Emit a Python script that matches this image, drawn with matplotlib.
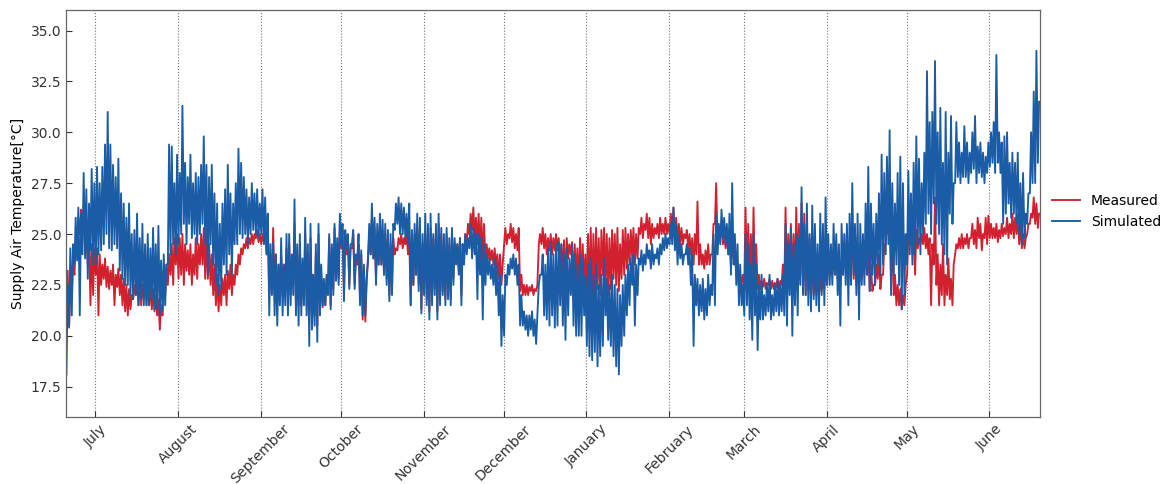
import matplotlib
matplotlib.use("Agg")
import matplotlib.pyplot as plt
import matplotlib.dates as mdates
import numpy as np
import pandas as pd

start_date = "2018-06-20"

# Daily high / low readings (one value per day, from 2018-06-20)
sim_hi = [
    22.5, 24.3, 24.5, 25.8, 26.3, 26.0, 28.0, 27.2, 26.5, 28.2, 27.5,   # Jun 20-30
    28.3, 27.5, 28.3, 29.4, 31.0, 29.4, 28.4, 27.8, 28.7, 27.0,         # Jul 1-10
    26.5, 25.8, 26.5, 25.0, 25.2, 26.0, 24.8, 25.5, 24.5, 25.0,         # Jul 11-20
    24.3, 25.3, 24.5, 25.4, 23.7, 24.0, 23.5, 29.4, 29.3, 27.5, 28.9,   # Jul 21-31
    28.0, 31.3, 28.5, 27.8, 28.9, 27.5, 28.0, 27.8, 28.4, 29.8, 28.4,   # Aug 1-11
    27.8, 28.4, 27.0, 26.5, 25.5, 26.5, 27.2, 28.4, 27.0, 26.5,         # Aug 12-21
    27.5, 29.2, 28.5, 27.8, 27.2, 26.8, 27.5, 27.0, 27.2, 26.5,         # Aug 22-31
    27.2, 26.8, 26.0, 24.5, 24.6, 24.0, 23.5, 24.8, 23.5, 25.0,         # Sep 1-10
    25.0, 24.0, 26.7, 24.5, 25.0, 23.8, 25.8, 24.5, 25.5, 23.0,         # Sep 11-20
    24.5, 25.5, 23.5, 22.8, 23.0, 25.0, 24.5, 25.5, 24.8, 26.0,         # Sep 21-30
    25.5, 25.2, 25.0, 24.5, 25.2, 24.0, 25.0, 24.2, 23.5, 22.8,         # Oct 1-10
    25.5, 26.5, 25.8, 25.5, 26.0, 25.7, 25.5, 25.2, 25.0, 25.5,         # Oct 11-20
    26.5, 26.8, 26.5, 26.3, 26.0, 26.5, 25.2, 25.5, 26.0, 25.8, 25.0,   # Oct 21-31
    26.0, 25.5, 26.0, 25.0, 25.5, 26.0, 25.3, 25.0, 25.3, 24.8,         # Nov 1-10
    25.3, 24.8, 24.5, 24.8, 24.5, 25.0, 24.8, 25.5, 25.3, 25.0,         # Nov 11-20
    25.0, 24.8, 24.5, 24.0, 23.8, 23.5, 23.8, 23.5, 23.0, 22.0,         # Nov 21-30
    23.0, 23.5, 23.8, 24.0, 23.8, 23.5, 22.0, 21.2, 21.0, 21.0,         # Dec 1-10
    21.2, 20.8, 21.0, 23.0, 24.0, 23.5, 24.3, 24.6, 24.0, 24.5,         # Dec 11-20
    24.6, 24.5, 24.0, 24.3, 23.8, 24.5, 24.0, 23.5, 24.0, 23.8, 23.0,   # Dec 21-31
    23.5, 23.8, 23.0, 23.5, 22.5, 23.0, 23.8, 22.8, 22.5, 23.0,         # Jan 1-10
    22.5, 22.3, 22.0, 22.5, 23.0, 23.5, 23.8, 24.0, 23.5, 23.8,         # Jan 11-20
    24.2, 24.0, 24.5, 24.2, 24.5, 24.0, 24.3, 24.5, 24.8, 25.0, 24.8,   # Jan 21-31
    25.5, 26.3, 25.5, 25.0, 24.5, 24.0, 24.5, 24.3, 24.0, 23.0, 22.8,   # Feb 1-11
    22.5, 22.8, 22.3, 23.0, 22.5, 25.0, 26.0, 25.5, 26.2, 25.8,         # Feb 12-21
    25.5, 26.0, 27.5, 25.0, 24.5, 23.5, 22.5, 25.0, 24.5, 23.5,         # Feb 22-Mar 3
    25.0, 23.5, 22.5, 23.0, 22.0, 22.5, 23.0, 22.0, 22.5, 22.8,         # Mar 4-13
    22.5, 23.0, 25.5, 24.5, 25.3, 24.5, 25.0, 24.8, 27.3, 25.5,         # Mar 14-23
    26.5, 25.0, 26.4, 25.5, 24.5, 26.0, 25.5, 26.8, 25.0, 24.5,         # Mar 24-Apr 2
    25.5, 25.0, 24.5, 25.5, 25.0, 25.5, 26.0, 27.5, 25.5, 26.0,         # Apr 3-12
    25.5, 25.0, 26.5, 28.3, 26.5, 25.5, 26.0, 27.0, 28.9, 28.0,         # Apr 13-22
    28.8, 30.1, 27.5, 26.5, 28.0, 28.8, 27.5, 25.0, 28.1, 27.0,         # Apr 23-May 2
    28.5, 29.8, 28.7, 27.5, 29.0, 33.0, 30.5, 31.0, 33.5, 30.0,         # May 3-12
    31.2, 28.5, 31.0, 29.0, 30.8, 27.5, 30.5, 29.5, 29.0, 30.3,         # May 13-22
    29.5, 29.0, 30.0, 30.8, 29.3, 29.5, 29.0, 28.8, 29.5, 30.0,         # May 23-Jun 1
    30.5, 33.8, 30.0, 29.5, 29.8, 30.0, 28.5, 29.0, 28.5, 29.0,         # Jun 2-11
    27.5, 28.0, 26.0, 27.0, 30.0, 32.0, 34.0, 31.5,                     # Jun 12-19
]
sim_lo = [
    18.1, 20.4, 21.0, 23.5, 23.7, 21.0, 24.0, 23.8, 22.8, 24.2, 23.5,
    23.5, 24.0, 24.2, 24.5, 25.0, 24.3, 24.2, 24.5, 24.3, 23.2,
    22.8, 22.5, 22.5, 22.0, 21.8, 22.0, 21.5, 21.8, 21.5, 21.5,
    21.5, 21.8, 21.3, 21.3, 21.0, 21.2, 21.5, 23.5, 24.0, 24.5, 24.0,
    24.5, 25.0, 25.5, 24.5, 25.5, 24.8, 25.0, 24.5, 25.0, 25.5, 24.5,
    23.0, 24.5, 23.5, 22.5, 22.0, 22.3, 23.5, 23.0, 24.0, 23.0,
    24.5, 24.5, 25.0, 24.8, 25.0, 24.5, 25.0, 25.2, 25.0, 24.8,
    25.0, 24.5, 24.0, 21.0, 22.0, 21.0, 20.5, 21.5, 21.0, 21.5,
    21.0, 21.5, 22.0, 21.0, 20.5, 21.0, 21.5, 21.0, 19.5, 20.3,
    20.5, 19.7, 21.0, 21.5, 21.5, 22.0, 21.3, 22.0, 22.7, 22.5,
    24.5, 21.7, 24.3, 22.3, 24.5, 22.3, 23.8, 21.5, 21.0, 21.0,
    23.7, 24.0, 23.8, 22.5, 23.5, 23.5, 23.0, 22.5, 21.7, 22.0,
    25.2, 25.5, 25.0, 25.0, 24.8, 24.5, 21.5, 22.5, 23.0, 22.2, 21.1,
    22.0, 21.5, 20.8, 21.5, 22.0, 20.8, 21.5, 22.0, 21.5, 21.8,
    21.5, 22.5, 23.5, 23.0, 21.5, 23.5, 24.0, 24.3, 23.8, 24.0,
    21.8, 23.0, 20.8, 22.5, 23.0, 22.8, 22.5, 22.0, 21.0, 19.5,
    20.0, 22.5, 23.0, 23.3, 23.0, 22.5, 20.5, 20.5, 20.3, 20.0,
    20.3, 20.0, 19.6, 22.5, 23.0, 21.0, 20.8, 20.5, 21.0, 20.4,
    20.5, 21.5, 20.5, 19.8, 21.0, 22.0, 20.5, 20.0, 20.0, 20.0, 21.0,
    19.5, 19.0, 18.8, 19.2, 18.5, 19.0, 19.5, 21.0, 19.8, 19.5,
    19.0, 18.5, 18.1, 19.5, 20.0, 21.0, 21.5, 22.5, 20.5, 22.0,
    23.5, 23.2, 23.5, 23.8, 23.3, 23.5, 23.8, 23.5, 24.0, 24.2, 24.3,
    24.5, 24.5, 24.2, 23.5, 23.8, 23.5, 24.0, 23.5, 22.5, 19.5, 21.5,
    21.0, 21.2, 20.8, 21.0, 21.5, 22.0, 21.5, 24.0, 24.5, 24.8,
    24.5, 24.0, 23.0, 23.5, 22.5, 21.5, 21.5, 21.0, 21.5, 20.8,
    19.8, 21.0, 19.3, 20.8, 20.8, 21.0, 21.2, 20.8, 21.0, 21.2,
    21.0, 21.2, 21.0, 20.5, 22.0, 20.0, 21.5, 21.0, 22.5, 22.0,
    22.0, 21.5, 21.2, 21.8, 21.5, 21.2, 22.0, 21.5, 22.5, 22.5,
    22.5, 23.0, 22.0, 20.5, 23.0, 22.5, 21.5, 22.5, 23.0, 22.0,
    20.8, 22.5, 22.5, 23.0, 22.2, 23.0, 22.5, 23.5, 23.0, 23.5,
    24.0, 24.5, 22.0, 23.0, 23.5, 22.5, 21.3, 22.0, 23.5, 24.0,
    23.5, 24.0, 24.5, 24.0, 25.0, 25.5, 26.0, 25.0, 26.5, 25.5,
    25.0, 24.5, 24.0, 23.5, 26.0, 25.5, 27.5, 27.8, 27.5, 27.8,
    27.8, 27.5, 28.0, 28.2, 27.5, 28.0, 27.8, 27.5, 28.0, 28.3,
    28.5, 28.0, 28.5, 28.0, 25.5, 26.0, 26.5, 25.8, 26.0, 25.5,
    25.0, 24.5, 24.8, 25.5, 27.0, 27.5, 27.5, 28.5,
]
meas_hi = [
    23.2, 22.5, 23.5, 24.5, 25.8, 26.2, 26.4, 25.5, 25.0, 24.5, 24.3,
    24.3, 24.0, 23.5, 23.8, 23.4, 23.2, 23.5, 23.0, 23.3, 23.0,
    22.8, 22.5, 22.3, 22.0, 22.5, 22.8, 23.0, 22.5, 22.8, 22.6,
    22.5, 22.3, 22.0, 21.8, 21.5, 22.5, 23.5, 24.0, 24.5, 24.8, 25.0,
    24.8, 25.0, 24.5, 24.2, 24.5, 24.0, 24.8, 24.5, 25.0, 25.3, 25.0,
    24.5, 24.0, 23.5, 23.0, 22.5, 22.8, 23.0, 23.2, 23.5, 23.0,
    23.5, 24.0, 24.3, 24.5, 24.8, 24.8, 25.0, 25.0, 25.2, 25.0,
    25.0, 25.2, 25.3, 24.0, 25.3, 24.0, 23.5, 24.0, 23.5, 24.3,
    24.5, 23.8, 25.5, 24.0, 24.5, 23.5, 25.0, 24.0, 24.8, 23.0,
    24.0, 25.0, 23.0, 22.5, 22.8, 24.8, 24.3, 25.3, 24.5, 25.5,
    25.2, 25.0, 24.8, 24.3, 25.0, 23.8, 24.5, 24.0, 23.0, 22.5,
    25.0, 25.8, 25.3, 25.0, 25.5, 25.2, 25.0, 24.8, 24.5, 24.8,
    24.3, 24.8, 25.0, 24.8, 25.0, 24.8, 24.5, 25.0, 25.3, 25.0, 24.5,
    25.0, 25.0, 25.3, 24.8, 25.0, 25.5, 25.0, 24.5, 25.0, 24.5,
    25.0, 24.5, 24.5, 24.8, 24.5, 25.0, 25.5, 26.0, 26.3, 25.8,
    26.0, 25.8, 25.5, 24.5, 24.3, 24.2, 24.3, 24.0, 24.0, 23.5,
    25.3, 25.0, 25.5, 25.3, 25.0, 25.3, 23.0, 22.5, 22.5, 22.4,
    22.5, 22.3, 22.5, 25.0, 25.3, 25.0, 24.8, 25.0, 24.8, 25.0,
    24.8, 24.5, 24.7, 24.8, 24.5, 24.6, 24.5, 24.3, 24.8, 24.5, 24.0,
    25.0, 25.3, 25.0, 25.3, 24.8, 25.2, 25.3, 25.0, 24.8, 25.2,
    25.0, 25.3, 24.5, 25.2, 25.3, 25.0, 25.2, 25.3, 25.0, 25.3,
    25.8, 25.5, 26.0, 25.8, 25.5, 25.3, 25.5, 25.8, 25.5, 25.8, 25.5,
    26.0, 26.3, 25.8, 25.5, 25.3, 25.0, 25.2, 25.0, 24.8, 25.0, 26.6,
    24.5, 24.0, 24.2, 24.5, 24.0, 25.5, 27.5, 25.3, 25.5, 25.0,
    25.0, 24.8, 24.5, 24.3, 23.5, 23.0, 23.0, 26.3, 25.5, 25.0,
    26.3, 24.5, 23.0, 22.7, 22.8, 22.6, 22.8, 22.7, 22.6, 22.8,
    22.7, 23.5, 26.3, 25.0, 25.5, 25.0, 26.3, 25.5, 26.5, 26.0,
    25.5, 24.8, 24.0, 23.0, 23.0, 22.8, 23.0, 23.5, 23.5, 24.0,
    24.0, 24.5, 24.0, 23.5, 24.5, 25.0, 24.5, 25.0, 24.5, 24.0,
    23.5, 24.0, 24.5, 24.5, 23.5, 22.5, 23.5, 24.0, 23.0, 24.5,
    25.5, 26.0, 25.8, 23.0, 22.5, 22.3, 22.0, 22.5, 25.0, 25.2,
    25.0, 25.2, 24.8, 25.0, 25.3, 25.0, 24.8, 24.5, 26.8, 24.0,
    23.5, 24.5, 23.0, 23.8, 22.8, 23.5, 24.5, 24.8, 25.0, 24.8,
    25.0, 24.8, 25.5, 25.2, 25.8, 25.5, 25.0, 25.8, 25.9, 25.5,
    25.3, 25.5, 25.2, 25.5, 25.3, 25.8, 25.5, 26.0, 25.8, 26.0,
    25.5, 25.0, 24.8, 25.5, 26.0, 26.8, 26.5, 26.0,
]
meas_lo = [
    21.5, 20.5, 21.8, 23.0, 24.5, 25.0, 25.2, 24.0, 23.5, 21.5, 22.0,
    23.0, 21.0, 22.5, 22.8, 22.4, 22.3, 22.5, 21.5, 22.4, 22.0,
    21.5, 21.2, 21.0, 21.3, 21.8, 22.0, 21.5, 21.5, 21.8, 21.5,
    21.5, 21.3, 21.2, 21.0, 20.3, 21.0, 22.0, 22.5, 23.0, 22.5, 23.5,
    22.8, 23.0, 22.5, 23.2, 23.0, 22.5, 23.0, 22.8, 23.5, 23.5, 22.8,
    22.8, 22.5, 22.0, 21.5, 21.2, 21.5, 22.0, 21.5, 22.3, 22.0,
    22.5, 23.0, 23.5, 24.0, 24.3, 24.3, 24.5, 24.5, 24.8, 24.6,
    24.5, 24.6, 24.0, 22.0, 22.5, 22.0, 21.5, 22.0, 22.0, 22.3,
    22.0, 22.0, 22.5, 21.5, 21.5, 21.5, 22.0, 21.5, 21.0, 21.0,
    21.0, 20.5, 21.5, 21.4, 21.5, 22.3, 21.5, 22.3, 22.8, 22.8,
    24.3, 22.0, 24.0, 22.5, 24.3, 22.5, 23.5, 21.8, 20.8, 20.7,
    23.8, 24.0, 23.8, 22.8, 23.5, 23.5, 23.0, 22.8, 22.0, 22.3,
    24.0, 24.2, 24.5, 24.3, 24.5, 24.0, 21.5, 22.5, 23.0, 22.5, 21.3,
    22.3, 21.8, 21.2, 21.8, 22.3, 21.2, 21.8, 22.2, 21.8, 22.0,
    21.8, 22.8, 23.8, 23.3, 22.0, 24.0, 24.5, 25.0, 25.2, 24.8,
    24.5, 24.0, 23.5, 23.8, 23.8, 23.7, 23.5, 23.3, 22.8, 22.5,
    24.5, 24.5, 24.8, 24.6, 24.3, 24.2, 22.2, 22.0, 22.0, 22.0,
    22.2, 22.0, 22.2, 24.5, 24.5, 24.3, 24.0, 24.2, 24.0, 24.2,
    24.2, 23.5, 23.0, 22.5, 23.8, 24.0, 22.5, 22.8, 22.5, 22.5, 22.3,
    22.3, 22.0, 21.8, 22.0, 22.3, 22.0, 23.0, 22.5, 22.0, 22.3,
    22.8, 22.5, 22.2, 22.8, 23.0, 23.3, 23.5, 23.8, 23.5, 23.8,
    25.0, 24.8, 25.2, 24.8, 24.5, 24.8, 25.0, 24.8, 25.0, 25.0, 25.0,
    25.0, 25.2, 24.8, 24.5, 24.5, 24.5, 24.8, 24.3, 24.0, 23.5, 24.0,
    23.5, 23.5, 23.3, 23.5, 23.5, 24.0, 25.5, 24.5, 24.8, 24.5,
    24.3, 24.0, 23.5, 23.8, 23.0, 22.5, 22.5, 22.5, 23.0, 22.5,
    22.5, 22.8, 22.3, 22.3, 22.4, 22.3, 22.5, 22.3, 22.3, 22.4,
    22.3, 22.5, 22.5, 22.5, 23.0, 22.5, 22.5, 22.8, 23.0, 22.5,
    22.0, 22.2, 22.0, 22.0, 22.0, 22.0, 22.2, 22.3, 22.5, 23.0,
    23.0, 23.0, 22.8, 22.5, 23.0, 23.5, 22.5, 23.5, 22.8, 22.5,
    22.5, 22.8, 23.0, 23.0, 22.2, 22.2, 22.5, 22.8, 22.3, 23.0,
    24.5, 25.0, 22.3, 22.0, 21.5, 21.5, 21.3, 21.5, 23.0, 24.5,
    24.0, 23.0, 24.3, 24.5, 24.5, 24.3, 24.0, 21.5, 23.5, 22.5,
    21.5, 22.0, 21.5, 22.0, 21.8, 21.5, 24.0, 24.3, 24.3, 24.3,
    24.5, 24.3, 24.8, 24.5, 24.3, 24.8, 24.2, 24.8, 24.5, 24.8,
    24.8, 24.8, 24.6, 24.8, 24.9, 25.0, 24.8, 25.0, 24.8, 25.0,
    24.5, 24.3, 24.3, 25.0, 25.5, 25.8, 25.5, 25.3,
]

series_names = ["Measured", "Simulated"]
series_colors = ["#d2202f", "#1a5ca6"]


def build(lo, hi):
    n = min(len(lo), len(hi))
    days = pd.date_range(start_date, periods=n, freq="D")
    t, v = [], []
    for i in range(n):
        t.append(days[i] + pd.Timedelta(hours=4))
        v.append(lo[i])
        t.append(days[i] + pd.Timedelta(hours=15))
        v.append(hi[i])
    return pd.to_datetime(t), np.array(v)


tm, vm = build(meas_lo, meas_hi)
ts, vs = build(sim_lo, sim_hi)

plt.rcParams['font.family'] = ['DejaVu Sans']
fig = plt.figure(figsize=(11.68, 4.84), dpi=100)
ax = fig.add_axes([0.0565, 0.138, 0.8335, 0.841])

ax.plot(tm, vm, color=series_colors[0], lw=1.35, label=series_names[0])
ax.plot(ts, vs, color=series_colors[1], lw=1.35, label=series_names[1])

ax.set_xlim(min(tm[0], ts[0]) - pd.Timedelta(hours=4), max(tm[-1], ts[-1]) + pd.Timedelta(hours=4))
ax.set_ylim(16, 36)
ax.set_yticks([17.5, 20.0, 22.5, 25.0, 27.5, 30.0, 32.5, 35.0])
ax.yaxis.set_major_formatter(matplotlib.ticker.FormatStrFormatter('%.1f'))

ax.xaxis.set_major_locator(mdates.MonthLocator())
ax.xaxis.set_major_formatter(mdates.DateFormatter('%B'))
plt.setp(ax.get_xticklabels(), rotation=45, ha='center')

ax.grid(axis='x', linestyle=':', color='#777777', lw=0.8)
ax.tick_params(direction='in', length=4, labelsize=10, colors='#333333')
for s in ax.spines.values():
    s.set_color('#666666')
    s.set_linewidth(0.9)

ax.set_ylabel('Supply Air Temperature[°C]', fontsize=10)
ax.legend(loc='center left', bbox_to_anchor=(1.0, 0.505), frameon=False, fontsize=10,
          handlelength=2.0)

fig.savefig('out.png', dpi=100)
